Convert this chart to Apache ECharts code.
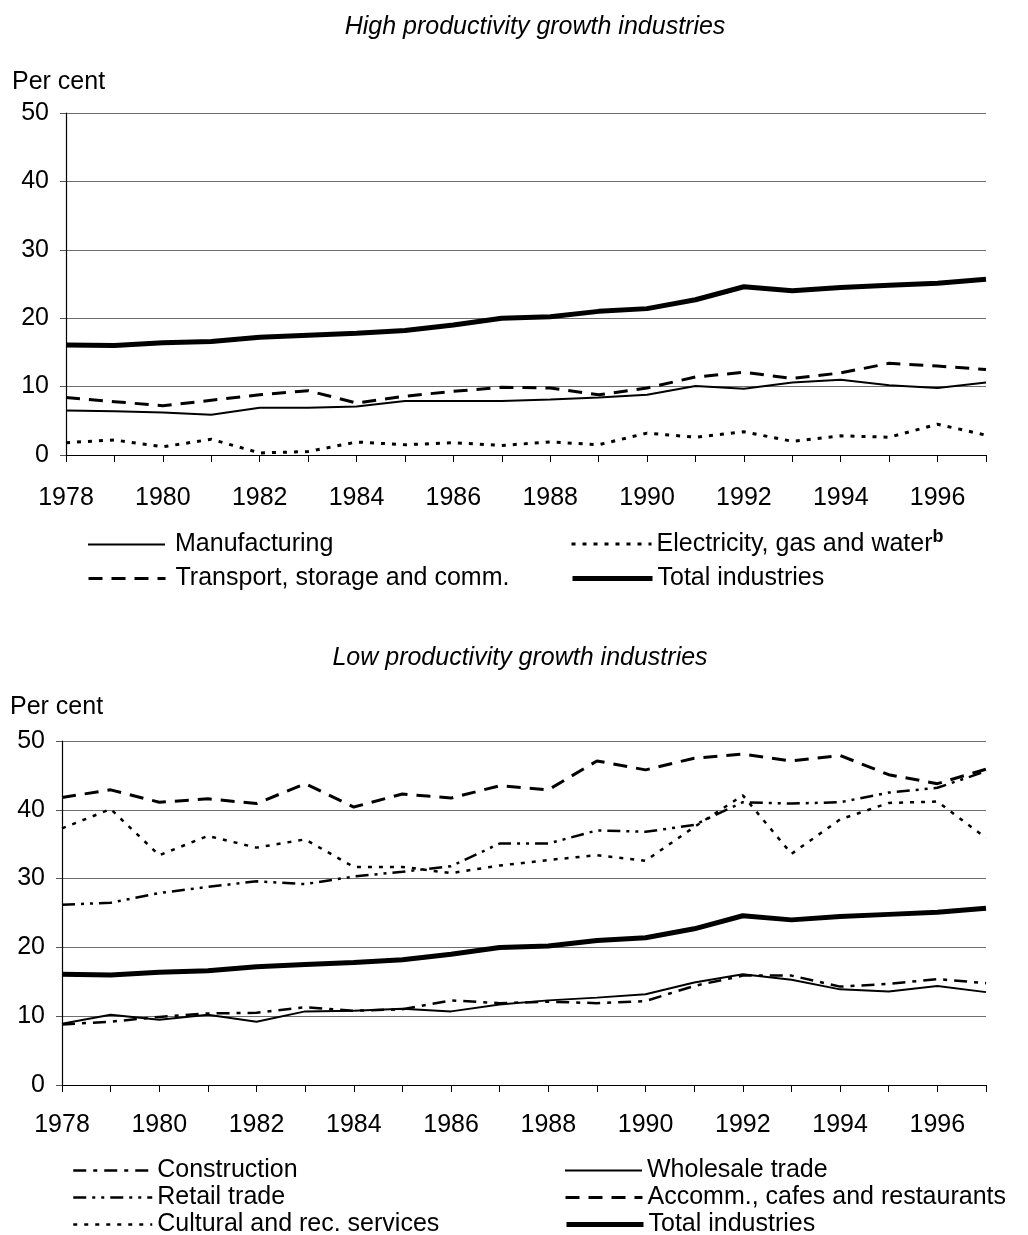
<!DOCTYPE html>
<html>
<head>
<meta charset="utf-8">
<script src="https://cdn.jsdelivr.net/npm/echarts@6/dist/echarts.min.js"></script>
<style>
  html, body { margin: 0; padding: 0; background: #fff; }
  #echart { width: 1028px; height: 1235px; }
</style>
</head>
<body>
<div id="echart"></div>
<script>
const years = ['1978', '1979', '1980', '1981', '1982', '1983', '1984', '1985', '1986', '1987',
  '1988', '1989', '1990', '1991', '1992', '1993', '1994', '1995', '1996', '1997']

// high productivity growth industries
const totalIndustries = [16.1, 16.0, 16.4, 16.6, 17.2, 17.5, 17.8, 18.2, 19.0, 20.0, 20.2, 21.0, 21.4, 22.7, 24.6, 24.0, 24.5, 24.8, 25.1, 25.7]
const manufacturing = [6.5, 6.4, 6.2, 5.9, 6.9, 6.9, 7.1, 7.9, 7.9, 7.9, 8.1, 8.4, 8.8, 10.1, 9.7, 10.6, 11.0, 10.2, 9.8, 10.6]
const transport = [8.4, 7.8, 7.2, 8.0, 8.8, 9.4, 7.6, 8.6, 9.3, 9.9, 9.8, 8.8, 9.8, 11.4, 12.1, 11.2, 12.0, 13.4, 13.0, 12.5]
const electricity = [1.8, 2.2, 1.2, 2.3, 0.3, 0.5, 1.9, 1.5, 1.8, 1.4, 1.9, 1.5, 3.2, 2.6, 3.4, 2.0, 2.8, 2.6, 4.5, 2.9]

// low productivity growth industries
const construction = [8.8, 9.2, 9.9, 10.4, 10.5, 11.3, 10.8, 11.0, 12.3, 11.9, 12.1, 11.9, 12.2, 14.4, 15.9, 15.9, 14.3, 14.7, 15.4, 14.8]
const wholesale = [8.9, 10.2, 9.5, 10.2, 9.2, 10.7, 10.8, 11.1, 10.7, 11.7, 12.3, 12.7, 13.2, 14.9, 16.1, 15.3, 13.9, 13.6, 14.4, 13.5]
const retail = [26.2, 26.5, 27.9, 28.8, 29.6, 29.2, 30.3, 31.0, 31.8, 35.1, 35.1, 37.0, 36.8, 37.8, 41.1, 40.9, 41.1, 42.5, 43.2, 45.6]
const accomm = [41.8, 42.9, 41.1, 41.6, 40.9, 43.8, 40.4, 42.3, 41.7, 43.5, 42.9, 47.1, 45.8, 47.5, 48.1, 47.1, 47.9, 45.1, 43.8, 45.9]
const cultural = [37.3, 40.1, 33.4, 36.2, 34.5, 35.7, 31.7, 31.7, 30.8, 31.9, 32.7, 33.4, 32.6, 37.5, 42.1, 33.6, 38.6, 41.0, 41.2, 35.9]

const yTicks = [0, 10, 20, 30, 40, 50]

const font = "'Liberation Sans', Arial, sans-serif"
const fs = 25

const myChart = echarts.init(document.getElementById('echart'))

function xAxisFor (gridIndex, margin) {
  return {
    type: 'category',
    gridIndex: gridIndex,
    data: years,
    boundaryGap: false,
    axisLine: { lineStyle: { color: '#000', width: 1.2 } },
    axisTick: { interval: 0, length: 7, lineStyle: { color: '#000' } },
    axisLabel: { interval: 1, margin: margin, color: '#000', fontSize: fs, fontFamily: font },
    splitLine: { show: false }
  }
}

function yAxisFor (gridIndex) {
  return {
    type: 'value',
    gridIndex: gridIndex,
    min: yTicks[0],
    max: yTicks[yTicks.length - 1],
    interval: 10,
    axisLine: { show: true, lineStyle: { color: '#000', width: 1.2 } },
    axisTick: { show: true, length: 6, lineStyle: { color: '#555' } },
    axisLabel: { margin: 17, color: '#000', fontSize: fs, fontFamily: font },
    splitLine: { lineStyle: { color: '#6e6e6e', width: 1 } }
  }
}

function line (name, data, idx, width, type) {
  return {
    name: name,
    type: 'line',
    xAxisIndex: idx,
    yAxisIndex: idx,
    data: data,
    symbol: 'none',
    showSymbol: false,
    silent: true,
    itemStyle: { color: '#000' },
    lineStyle: { color: '#000', width: width, type: type }
  }
}

const dotted = [4, 7]
const dashed = [14, 9]
const dashDot = [13, 7, 4, 7]
const dashDotDot = [13, 6, 3, 6, 3, 6]

// one legend component per entry so that rows sit exactly where the reference has them
function legendItem (name, left, top, itemWidth, textPad, lineWidth) {
  return {
    left: left,
    top: top,
    padding: 0,
    itemWidth: itemWidth,
    itemHeight: 14,
    selectedMode: false,
    itemStyle: { opacity: 0 },
    textStyle: {
      color: '#000',
      fontSize: fs,
      fontFamily: font,
      lineHeight: 24,
      padding: [0, 0, 0, textPad],
      rich: {
        sup: { fontSize: 18, fontWeight: 'bold', fontFamily: font, color: '#000', padding: [0, 0, 14, 0] }
      }
    },
    formatter: function (n) {
      return n === 'Electricity, gas and water' ? n + '{sup|b}' : n
    },
    data: [{ name: name, lineStyle: { width: lineWidth } }]
  }
}

const option = {
  animation: false,
  backgroundColor: '#fff',
  graphic: [
    { type: 'text', style: { x: 535, y: 27, text: 'High productivity growth industries', font: 'italic 25px ' + font, fill: '#000', textAlign: 'center', textVerticalAlign: 'middle' } },
    { type: 'text', style: { x: 12, y: 82, text: 'Per cent', font: fs + 'px ' + font, fill: '#000', textVerticalAlign: 'middle' } },
    { type: 'text', style: { x: 520, y: 658, text: 'Low productivity growth industries', font: 'italic 25px ' + font, fill: '#000', textAlign: 'center', textVerticalAlign: 'middle' } },
    { type: 'text', style: { x: 10, y: 707, text: 'Per cent', font: fs + 'px ' + font, fill: '#000', textVerticalAlign: 'middle' } }
  ],
  grid: [
    { left: 66, right: 42, top: 113, height: 342 },
    { left: 62, right: 42, top: 741, height: 344 }
  ],
  xAxis: [xAxisFor(0, 31), xAxisFor(1, 28)],
  yAxis: [yAxisFor(0), yAxisFor(1)],
  legend: [
    legendItem('Manufacturing', 87, 532, 77, 5, 2),
    legendItem('Transport, storage and comm.', 87, 566, 77, 5, 3),
    legendItem('Electricity, gas and water', 570, 528, 80, 0, 3),
    legendItem('Total industries', 570, 566, 80, 0, 5),
    legendItem('Construction', 72, 1158, 79, 0, 2.5),
    legendItem('Retail trade', 72, 1185, 79, 0, 2.5),
    legendItem('Cultural and rec. services', 72, 1212, 79, 0, 2.5),
    legendItem('Wholesale trade', 564, 1158, 77, 0, 2),
    legendItem('Accomm., cafes and restaurants', 564, 1185, 77, 0, 3),
    legendItem('Total industries', 564, 1212, 77, 0, 5)
  ],
  series: [
    line('Manufacturing', manufacturing, 0, 2, 'solid'),
    line('Electricity, gas and water', electricity, 0, 3, dotted),
    line('Transport, storage and comm.', transport, 0, 3, dashed),
    line('Total industries', totalIndustries, 0, 5, 'solid'),
    line('Construction', construction, 1, 2.5, dashDot),
    line('Wholesale trade', wholesale, 1, 2, 'solid'),
    line('Retail trade', retail, 1, 2.5, dashDotDot),
    line('Accomm., cafes and restaurants', accomm, 1, 3, dashed),
    line('Cultural and rec. services', cultural, 1, 2.5, dotted),
    line('Total industries', totalIndustries, 1, 5, 'solid')
  ]
}
myChart.setOption(option)
</script>
</body>
</html>
